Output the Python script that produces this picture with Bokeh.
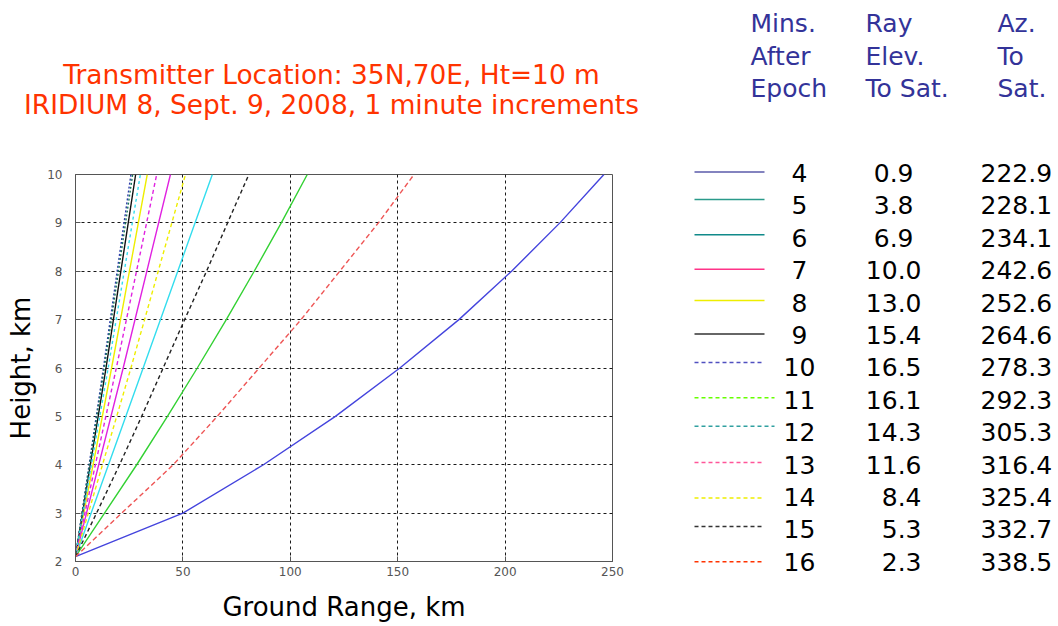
from bokeh.plotting import figure
from bokeh.models import Range1d, FixedTicker
from bokeh.layouts import row, column
from bokeh.embed import file_html
from bokeh.resources import INLINE
from bokeh.core.properties import value

# ---------------- data ----------------
heights_fine = [2.1, 3, 4, 5, 6, 7, 8, 9, 10]
heights_coarse = [2.1, 6, 10]

range_m4 = [0, 50, 87.5, 121, 151, 178.5, 203, 225.5, 246]
range_m16 = [0, 21.5, 45.5, 66, 85.5, 105, 123, 141, 157.6]
range_m5 = [0, 13.5, 28.5, 42.8, 56.7, 70.2, 83.2, 95.8, 107.9]
range_m15 = [0, 9.8, 20.5, 30.8, 40.8, 50.8, 61, 70.8, 80.7]
range_m6 = [0, 31.5, 63.7]
range_m14 = [0, 25.8, 51.2]
range_m7 = [0, 22.2, 44.2]
range_m13 = [0, 19.0, 37.8]
range_m8 = [0, 16.8, 33.4]
range_m12 = [0, 15.2, 30.2]
range_m9 = [0, 14.2, 28.0]
range_m11 = [0, 13.4, 26.6]
range_m10 = [0, 13.0, 25.8]

minutes = ["4", "5", "6", "7", "8", "9", "10", "11", "12", "13", "14", "15", "16"]
elevations = ["0.9", "3.8", "6.9", "10.0", "13.0", "15.4", "16.5", "16.1",
              "14.3", "11.6", "8.4", "5.3", "2.3"]
azimuths = ["222.9", "228.1", "234.1", "242.6", "252.6", "264.6", "278.3",
            "292.3", "305.3", "316.4", "325.4", "332.7", "338.5"]

x_ticks = [0, 50, 100, 150, 200, 250]
y_ticks = [2, 3, 4, 5, 6, 7, 8, 9, 10]

title_lines = ["Transmitter Location: 35N,70E, Ht=10 m",
               "IRIDIUM 8, Sept. 9, 2008, 1 minute increments"]
header_cols = [["Mins.", "After", "Epoch"],
               ["Ray", "Elev.", "To Sat."],
               ["Az.", "To", "Sat."]]

FONT = "DejaVu Sans"
W_LEFT, H = 660, 626
H_TITLE = 130
FL, FR, FT, FB = 75, 612, 174, 561


def blank(fig):
    fig.axis.visible = False
    fig.grid.visible = False
    fig.outline_line_color = None
    fig.background_fill_color = "white"
    fig.border_fill_color = "white"


# ---------------- title strip ----------------
t = figure(width=W_LEFT, height=H_TITLE, output_backend="svg", toolbar_location=None,
           x_range=Range1d(0, W_LEFT), y_range=Range1d(H_TITLE, 0),
           min_border_left=0, min_border_right=0, min_border_top=0, min_border_bottom=0)
blank(t)
t.text(x=[331, 331], y=[74, 104], text=title_lines, text_align="center",
       text_baseline="middle", text_font=value(FONT), text_font_size="26.4px",
       text_color="#ff3300")

# ---------------- chart ----------------
p = figure(width=W_LEFT, height=H - H_TITLE, output_backend="svg", toolbar_location=None,
           x_range=Range1d(0, 250), y_range=Range1d(2, 10),
           min_border_left=FL, min_border_right=W_LEFT - FR,
           min_border_top=FT - H_TITLE, min_border_bottom=H - FB)
p.background_fill_color = "white"
p.border_fill_color = "white"
p.outline_line_color = "#555555"
p.outline_line_width = 1

p.xaxis.ticker = FixedTicker(ticks=x_ticks)
p.yaxis.ticker = FixedTicker(ticks=y_ticks)
for ax in (p.xaxis, p.yaxis):
    ax.major_tick_in = 5
    ax.major_tick_out = 0
    ax.minor_tick_line_color = None
    ax.axis_line_color = "#555555"
    ax.major_tick_line_color = "#555555"
    ax.major_label_text_font = FONT
    ax.major_label_text_font_size = "12px"
    ax.major_label_text_color = "#555555"
    ax.axis_label_text_font = FONT
    ax.axis_label_text_font_size = "26px"
    ax.axis_label_text_font_style = "normal"
    ax.axis_label_text_color = "black"
p.xaxis.major_label_standoff = 5
p.yaxis.major_label_standoff = 13
p.xaxis.axis_label = "Ground Range, km"
p.yaxis.axis_label = "Height, km"
p.xaxis.axis_label_standoff = 13
p.yaxis.axis_label_standoff = 8

p.grid.grid_line_color = "black"
p.grid.grid_line_dash = "3 3"
p.grid.grid_line_width = 1
p.grid.grid_line_alpha = 0.9

series = [
    (range_m4, heights_fine, "#4444dd", "solid"),
    (range_m5, heights_fine, "#33d133", "solid"),
    (range_m6, heights_coarse, "#33ddee", "solid"),
    (range_m7, heights_coarse, "#e022e0", "solid"),
    (range_m8, heights_coarse, "#eeee00", "solid"),
    (range_m9, heights_coarse, "#111111", "solid"),
    (range_m10, heights_coarse, "#2a3aa8", "2 2"),
    (range_m11, heights_coarse, "#1a7a5a", "2 2"),
    (range_m12, heights_coarse, "#33ddee", "3 3"),
    (range_m13, heights_coarse, "#e022e0", "4 3"),
    (range_m14, heights_coarse, "#eeee00", "4 3"),
    (range_m15, heights_fine, "#222222", "4 3"),
    (range_m16, heights_fine, "#ee5555", "5 3"),
]
for xs, ys, col, dash in series:
    p.line(xs, ys, line_color=col, line_width=1.4, line_dash=dash)

# ---------------- legend table ----------------
W_RIGHT = 1058 - W_LEFT
q = figure(width=W_RIGHT, height=H, output_backend="svg", toolbar_location=None,
           x_range=Range1d(W_LEFT, 1058), y_range=Range1d(H, 0),
           min_border_left=0, min_border_right=0, min_border_top=0, min_border_bottom=0)
blank(q)

header_x = [750, 865, 997]
header_y = [23, 56, 88]
for cx, col in zip(header_x, header_cols):
    q.text(x=[cx] * 3, y=header_y, text=col, text_align="left", text_baseline="middle",
           text_font=value(FONT), text_font_size="25px", text_color="#333399")

legend_colors = ["#5a5aaa", "#2a9a8a", "#108a8a", "#ff3388", "#eeee00", "#333333",
                 "#5050c0", "#66ff00", "#30a0a0", "#ff5599", "#eeee00", "#333333", "#ff3300"]
legend_dash = ["solid"] * 6 + ["4 3"] * 7
sample_end = [764] * 7 + [774, 774] + [764] * 4
sample_dy = [-1, -6, -3, -1, -2, -1, -5, -2, -6, -2, 1, -3, 0]

row_y = [172.5 + 32.4 * i for i in range(len(minutes))]
for i in range(len(minutes)):
    q.line([694, sample_end[i]], [row_y[i] + sample_dy[i]] * 2, line_color=legend_colors[i],
           line_width=1.5, line_dash=legend_dash[i])

q.text(x=[799] * len(minutes), y=row_y, text=minutes, text_align="center",
       text_baseline="middle", text_font=value(FONT), text_font_size="25px", text_color="black")
elev_x = [913, 913, 913] + [921] * 10
q.text(x=elev_x, y=row_y, text=elevations, text_align="right",
       text_baseline="middle", text_font=value(FONT), text_font_size="25px", text_color="black")
q.text(x=[980] * len(minutes), y=row_y, text=azimuths, text_align="left",
       text_baseline="middle", text_font=value(FONT), text_font_size="25px", text_color="black")

layout = row(column(column(t), column(p)), column(q))
open("out.html", "w").write(file_html(layout, INLINE))
